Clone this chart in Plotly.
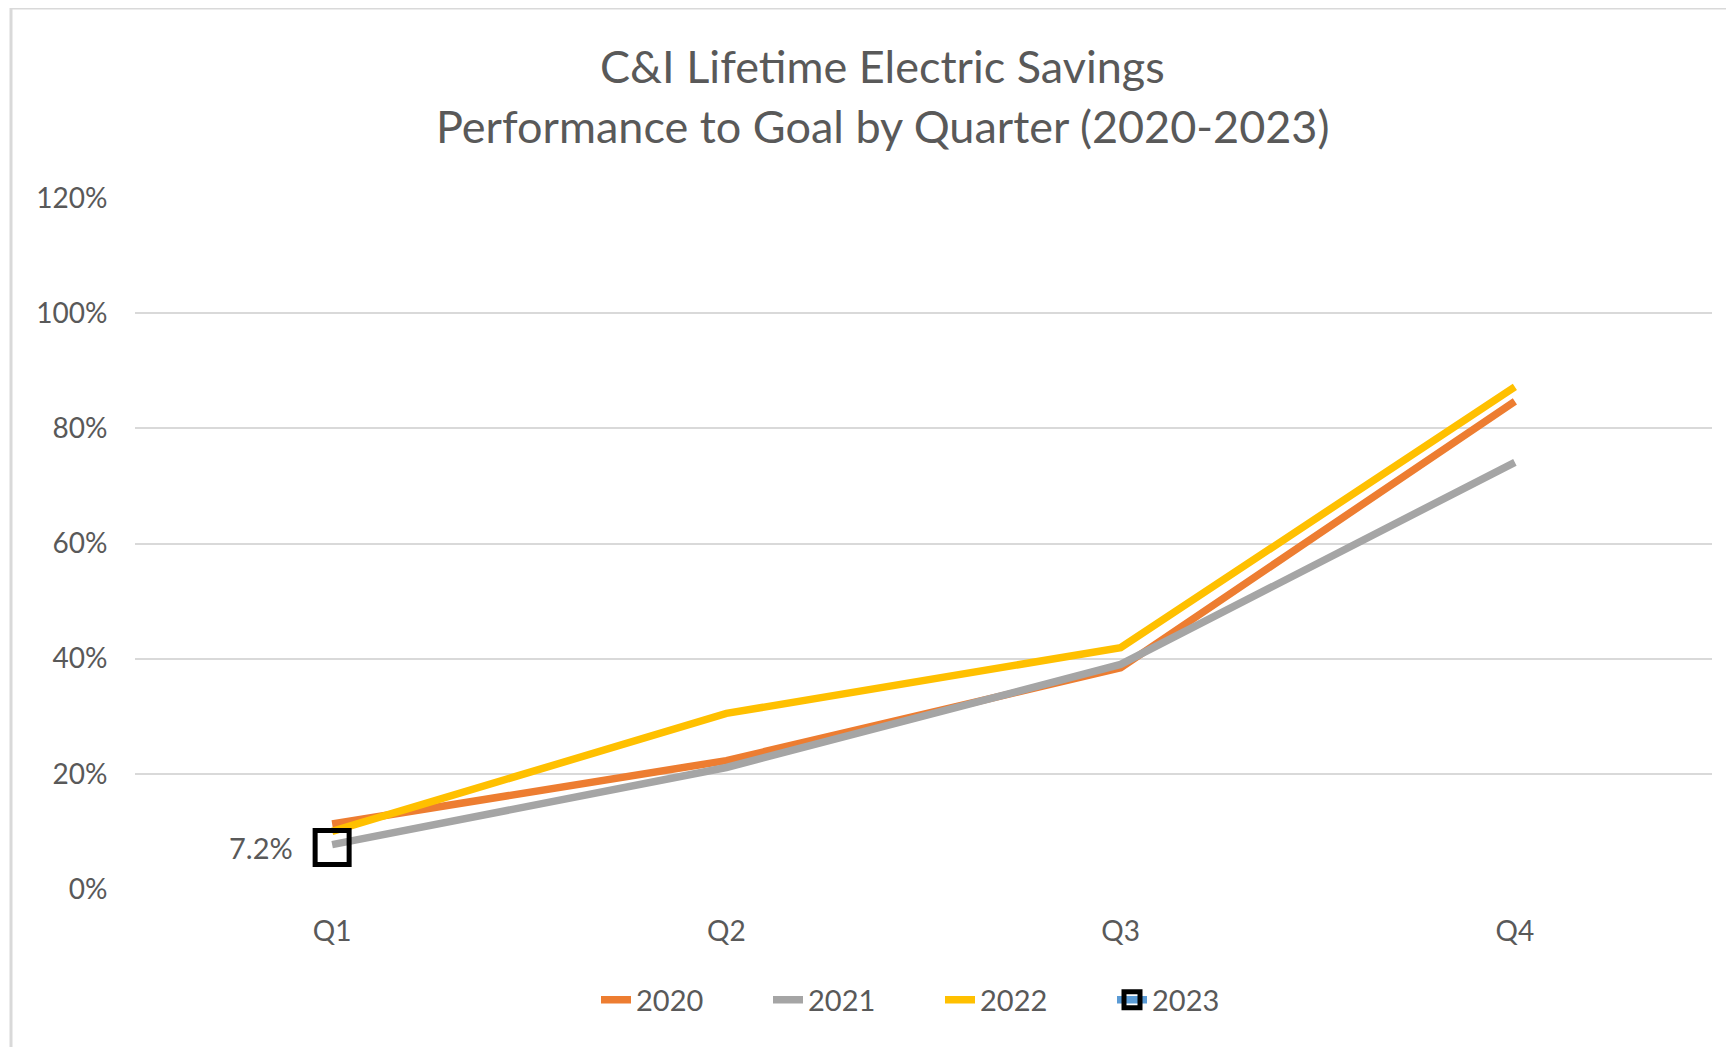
import plotly.graph_objects as go

quarters = ["Q1", "Q2", "Q3", "Q4"]
y2020 = [11.3, 22.3, 38.4, 84.7]
y2021 = [7.7, 21.1, 39.0, 74.1]
y2022 = [10.0, 30.5, 41.9, 87.2]
y2023 = [7.2]
years = ["2020", "2021", "2022", "2023"]
colors = ["#ED7D31", "#A5A5A5", "#FFC000", "#5B9BD5"]
yticks = [0, 20, 40, 60, 80, 100, 120]
title_lines = ["C&I Lifetime Electric Savings", "Performance to Goal by Quarter (2020-2023)"]

FONT = "Lato, Open Sans, sans-serif"
TXT = "#595959"

# figure sits at an 8px page offset; geometry below is in figure pixels
W, H = 1726, 1039
L, R, T, B = 127, 22, 190, 158
PH = H - T - B
PW = W - L - R

fig = go.Figure()
for name, vals, col in zip(years[:3], [y2020, y2021, y2022], colors[:3]):
    fig.add_trace(go.Scatter(x=quarters[:len(vals)], y=vals, name=name, mode="lines",
                             line=dict(color=col, width=7.5), hoverinfo="skip"))
fig.add_trace(go.Scatter(x=quarters[:len(y2023)], y=y2023, name=years[3], mode="lines+markers",
                         line=dict(color=colors[3], width=7.5),
                         marker=dict(symbol="square-open", size=34, color="black",
                                     line=dict(width=5, color="black"))))

fig.add_annotation(x=quarters[0], y=y2023[0], text=f"{y2023[0]}%", showarrow=False,
                   xanchor="right", yanchor="middle", xshift=-37,
                   font=dict(family=FONT, size=29, color=TXT))

title_y = [58, 118]
for i, t in enumerate(title_lines):
    fig.add_annotation(xref="paper", yref="paper", x=(882 - 8 - L) / PW, y=(H - B - title_y[i]) / PH,
                       text=t, showarrow=False, xanchor="center", yanchor="middle",
                       font=dict(family=FONT, size=45, color=TXT))

# chart border (left & top visible)
border = dict(color="#D9D9D9", width=3)
x0 = (3 - L) / PW
ytop = (H - B) / PH
fig.add_shape(type="line", xref="paper", yref="paper", x0=x0, x1=x0, y0=-0.3, y1=ytop, line=border)
fig.add_shape(type="line", xref="paper", yref="paper", x0=x0, x1=1.1, y0=ytop, y1=ytop, line=border)

fig.update_layout(
    width=W, height=H,
    margin=dict(l=L, r=R, t=T, b=B),
    paper_bgcolor="white", plot_bgcolor="white",
    showlegend=True,
    legend=dict(orientation="h", x=(588 - L) / PW, xanchor="left", y=(-(992 - (H - B))) / PH,
                yanchor="middle", font=dict(family=FONT, size=29, color=TXT),
                entrywidth=127, traceorder="normal"),
    font=dict(family=FONT, color=TXT),
)
fig.update_xaxes(range=[-0.5, 3.5], showgrid=False, showline=False, zeroline=False,
                 ticks="outside", ticklen=17, tickcolor="rgba(0,0,0,0)",
                 tickfont=dict(family=FONT, size=28, color=TXT))
fig.update_yaxes(range=[0, 120], tickvals=yticks, ticktext=[f"{v}%" for v in yticks],
                 showgrid=True, gridcolor="#D9D9D9", gridwidth=2, zeroline=False,
                 showline=False, ticks="outside", ticklen=21, tickcolor="rgba(0,0,0,0)",
                 tickfont=dict(family=FONT, size=28, color=TXT))

fig.write_html("out.html")
